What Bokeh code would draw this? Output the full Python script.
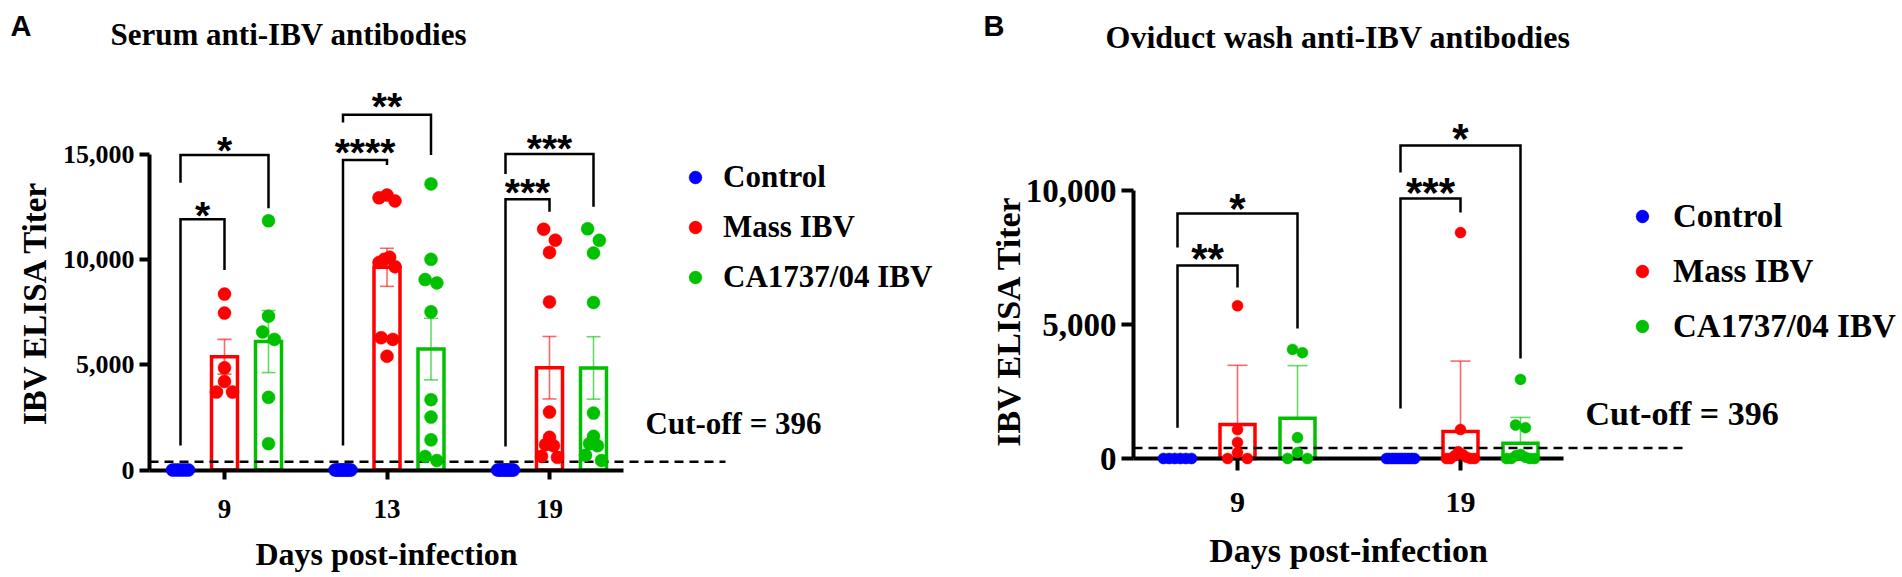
import numpy as np
from bokeh.plotting import figure
from bokeh.models import (FixedTicker, NumeralTickFormatter, Legend, LegendItem,
                          ColumnDataSource)
from bokeh.layouts import row
from bokeh.embed import file_html
from bokeh.resources import INLINE
from bokeh.core.properties import value

# ---------------------------------------------------------------- data
groups = ["Control", "Mass IBV", "CA1737/04 IBV"]
group_colors = ["#0000ff", "#ff0000", "#00c000"]
cutoff = 396

# Panel A: serum anti-IBV antibodies (individual birds)
serum_days = ["9", "13", "19"]
serum_control = [[0] * 6, [0] * 10, [0] * 10]
serum_mass = [
    [8350, 7450, 4850, 4200, 3700, 3700],
    [13050, 12920, 12770, 10100, 10000, 9850, 9650, 6280, 6200, 5400],
    [11430, 10910, 10330, 7980, 2750, 1550, 1200, 1150, 650, 600],
]
serum_ca = [
    [11830, 7300, 6550, 6200, 3450, 1250],
    [13580, 10000, 9040, 8880, 7510, 3340, 2510, 1430, 640, 450],
    [11450, 10900, 10300, 7950, 2700, 1600, 1250, 1150, 700, 450],
]
serum_ticks = [0, 5000, 10000, 15000]
# (day, group a, group b, label, bracket level, foot a, foot b, label level)
serum_sig = [
    ("9", 0, 1, "*", 11900, 1160, 9490, 12530),
    ("9", 0, 2, "*", 14950, 13640, 12430, 15570),
    ("13", 0, 1, "****", 14720, 1160, 14480, 15480),
    ("13", 0, 2, "**", 16860, 16500, 14950, 17660),
    ("19", 0, 1, "***", 12850, 1120, 12260, 13600),
    ("19", 0, 2, "***", 15000, 14050, 12500, 15670),
]

# Panel B: oviduct wash anti-IBV antibodies
oviduct_days = ["9", "19"]
oviduct_control = [[0] * 6, [0] * 10]
oviduct_mass = [
    [5700, 1080, 600, 220, 0, 0],
    [8430, 1080, 250, 150, 100, 50, 0, 0, 0, 0],
]
oviduct_ca = [
    [4070, 3950, 780, 220, 0, 0],
    [2950, 1250, 1150, 150, 100, 50, 0, 0, 0, 0],
]
oviduct_ticks = [0, 5000, 10000]
oviduct_sig = [
    ("9", 0, 1, "**", 7200, 1150, 6380, 7840),
    ("9", 0, 2, "*", 9140, 7870, 4850, 9700),
    ("19", 0, 1, "***", 9700, 1870, 9180, 10300),
    ("19", 0, 2, "*", 11680, 10670, 3730, 12310),
]

# ---------------------------------------------------------------- layout (page pixels)
LAYOUT_A = dict(fig_left=0, fig_top=0, width=958, height=577,
                kx=162.5, day1_px=224, ky=316 / 15000, zero_px=469.5,
                axis_x_px=149, axis_end_px=623,
                group_dx=44, bar_px=26, dot=13, spread=8, cap_px=7,
                title=(110, 34), letter=(10, 25), ylabel=(34, 302), xlabel=(386, 553),
                cut_end_px=725, cut_text=(645, 423),
                legend=(679, 296), legend_spacing=12, legend_standoff=12,
                tick_x=9, tick_y=10, xlab_standoff=21, ylab_standoff=5,
                fonts=dict(title=31, ytick=26, xtick=27, ylabel=33, xlabel=32,
                           legend=31, cut=31, star=39, letter=29))
LAYOUT_B = dict(fig_left=958, fig_top=0, width=944, height=577,
                kx=223, day1_px=1237, ky=268 / 10000, zero_px=458,
                axis_x_px=1133, axis_end_px=1563,
                group_dx=60, bar_px=35, dot=11, spread=14, cap_px=10,
                title=(1105, 36), letter=(983, 25), ylabel=(1008, 320), xlabel=(1348, 550),
                cut_end_px=1687, cut_text=(1585, 413),
                legend=(1626, 345), legend_spacing=17, legend_standoff=15,
                tick_x=12, tick_y=12, xlab_standoff=22, ylab_standoff=5,
                fonts=dict(title=32, ytick=33, xtick=30, ylabel=34, xlabel=34,
                           legend=33, cut=34, star=42, letter=29))

SERIF = "Liberation Serif"
SANS = "Liberation Sans"


def swarm_offsets(vals, ky, d, hw):
    """Horizontal pixel offsets so that overlapping points spread sideways."""
    v = np.asarray(vals, float)
    offs = np.zeros(len(v))
    order = list(np.argsort(v, kind="stable"))
    clusters = [[order[0]]]
    for i in order[1:]:
        if (v[i] - v[clusters[-1][-1]]) * ky < 0.9 * d:
            clusters[-1].append(i)
        else:
            clusters.append([i])
    for c in clusters:
        m = len(c)
        if m < 2:
            continue
        half = min((m - 1) * 0.45 * d, hw)
        slots = np.linspace(-half, half, m)
        slots = slots[np.argsort(np.abs(slots), kind="stable")]
        for slot, idx in zip(slots, sorted(c, key=lambda j: -v[j])):
            offs[idx] = slot
    return offs


def make_panel(letter, title, days, series, ticks, sig, err, L):
    kx, ky = L["kx"], L["ky"]
    W, H = L["width"], L["height"]
    fig_bottom = L["fig_top"] + H

    def px2x(px):
        return 1 + (px - L["day1_px"]) / kx

    def px2y(py):
        return (L["zero_px"] - py) / ky

    x0, x1 = px2x(L["fig_left"]), px2x(L["fig_left"] + W)
    y0, y1 = px2y(fig_bottom), px2y(L["fig_top"])
    F = L["fonts"]

    p = figure(width=W, height=H, x_range=(x0, x1), y_range=(y0, y1), title=None,
               min_border=0, output_backend="svg", toolbar_location=None)
    p.xgrid.visible = False
    p.ygrid.visible = False
    p.outline_line_color = None

    def label(px, py, txt, size, font=SERIF, align="left", angle=0.0):
        p.text(x=[px2x(px)], y=[px2y(py)], text=[txt], angle=angle,
               text_font=value(font), text_font_style="bold",
               text_font_size=f"{size}px", text_align=align,
               text_baseline="middle", text_color="black")

    label(*L["title"], title, F["title"])
    label(*L["letter"], letter, F["letter"], font=SANS)
    label(*L["ylabel"], "IBV ELISA Titer", F["ylabel"], align="center", angle=np.pi / 2)
    label(*L["xlabel"], "Days post-infection", F["xlabel"], align="center")

    gdx = L["group_dx"] / kx
    offsets = [-gdx, 0.0, gdx]
    bar_w = L["bar_px"] / kx
    cap = L["cap_px"] / kx

    renderers = []
    for g, color in enumerate(group_colors):
        px, py = [], []
        bx, btop = [], []
        ex, elo, ehi = [], [], []
        for d in range(len(days)):
            vals = np.asarray(series[g][d], float)
            c = d + 1 + offsets[g]
            offs = swarm_offsets(vals, ky, L["dot"], L["spread"]) / kx
            px.extend((c + offs).tolist())
            py.extend(vals.tolist())
            m = vals.mean()
            sd = vals.std(ddof=1)
            if m > 0:
                bx.append(c)
                btop.append(m)
            if sd > 0:
                e = sd / np.sqrt(len(vals)) if err == "sem" else sd
                ex.append(c)
                elo.append(m - e if err == "sem" else m)
                ehi.append(m + e)
        if bx:
            p.vbar(x=bx, top=btop, bottom=0, width=bar_w, fill_alpha=0,
                   line_color=color, line_width=3.5, line_join="miter")
        if ex:
            ex = np.array(ex)
            p.segment(x0=ex, y0=elo, x1=ex, y1=ehi, line_color=color,
                      line_width=1.6, line_alpha=0.6)
            p.segment(x0=ex - cap, y0=ehi, x1=ex + cap, y1=ehi, line_color=color,
                      line_width=1.6, line_alpha=0.6)
            if err == "sem":
                p.segment(x0=ex - cap, y0=elo, x1=ex + cap, y1=elo, line_color=color,
                          line_width=1.6, line_alpha=0.6)
        src = ColumnDataSource(dict(x=px, y=py))
        r = p.scatter("x", "y", source=src, size=L["dot"], fill_color=color,
                      line_color=color, line_width=0.5)
        r.level = "overlay"
        renderers.append(r)

    # significance brackets
    bxs, bys, sx, sy, st = [], [], [], [], []
    for day, ga, gb, lab, level, foot_a, foot_b, lab_y in sig:
        c = days.index(day) + 1
        xa, xb = c + offsets[ga], c + offsets[gb]
        bxs.append([xa, xa, xb, xb])
        bys.append([foot_a, level, level, foot_b])
        sx.append((xa + xb) / 2)
        sy.append(lab_y)
        st.append(lab)
    p.multi_line(bxs, bys, line_color="black", line_width=2.5, line_join="miter")
    p.text(x=sx, y=sy, text=st, text_font=value(SANS), text_font_style="bold",
           text_font_size=f"{F['star']}px", text_align="center",
           text_baseline="middle", y_offset=round(0.23 * F["star"]),
           text_color="black")

    # cut-off line and label
    p.line([px2x(L["axis_x_px"]), px2x(L["cut_end_px"])], [cutoff, cutoff],
           line_color="black", line_width=2.5, line_dash="9 6")
    label(*L["cut_text"], f"Cut-off = {cutoff}", F["cut"])

    # axes (drawn by Bokeh at fixed positions inside the frame)
    xa = p.xaxis[0]
    ya = p.yaxis[0]
    xa.fixed_location = 0
    xa.bounds = (px2x(L["axis_x_px"]), px2x(L["axis_end_px"]))
    xa.ticker = FixedTicker(ticks=list(range(1, len(days) + 1)))
    xa.major_label_overrides = {i + 1: dd for i, dd in enumerate(days)}
    xa.major_tick_out = L["tick_x"]
    xa.major_label_standoff = L["xlab_standoff"]
    xa.major_label_text_font_size = f"{F['xtick']}px"

    ya.fixed_location = px2x(L["axis_x_px"])
    ya.bounds = (0, ticks[-1])
    ya.ticker = FixedTicker(ticks=ticks)
    ya.formatter = NumeralTickFormatter(format="0,0")
    ya.major_tick_out = L["tick_y"]
    ya.major_label_standoff = L["ylab_standoff"]
    ya.major_label_text_font_size = f"{F['ytick']}px"

    for ax in (xa, ya):
        ax.axis_line_width = 4
        ax.axis_line_color = "black"
        ax.major_tick_line_width = 4
        ax.major_tick_line_color = "black"
        ax.major_tick_in = 0
        ax.minor_tick_line_color = None
        ax.major_label_text_font = SERIF
        ax.major_label_text_font_style = "bold"
        ax.major_label_text_color = "black"

    # legend
    lx, lb = L["legend"]
    leg = Legend(items=[LegendItem(label=n, renderers=[r]) for n, r in zip(groups, renderers)],
                 location=(lx - L["fig_left"], fig_bottom - lb), orientation="vertical",
                 glyph_width=32, glyph_height=32, label_height=38,
                 label_standoff=L["legend_standoff"], spacing=L["legend_spacing"],
                 padding=0, margin=0, border_line_alpha=0, background_fill_alpha=0,
                 label_text_font=SERIF, label_text_font_style="bold",
                 label_text_font_size=f"{F['legend']}px", label_text_color="black")
    p.add_layout(leg)
    return p


serum_series = [serum_control, serum_mass, serum_ca]
oviduct_series = [oviduct_control, oviduct_mass, oviduct_ca]

pA = make_panel("A", "Serum anti-IBV antibodies", serum_days, serum_series, serum_ticks,
                serum_sig, "sem", LAYOUT_A)
pB = make_panel("B", "Oviduct wash anti-IBV antibodies", oviduct_days, oviduct_series,
                oviduct_ticks, oviduct_sig, "sd", LAYOUT_B)

layout = row(pA, pB)
open("out.html", "w").write(file_html(layout, INLINE, title="Anti-IBV antibodies"))
